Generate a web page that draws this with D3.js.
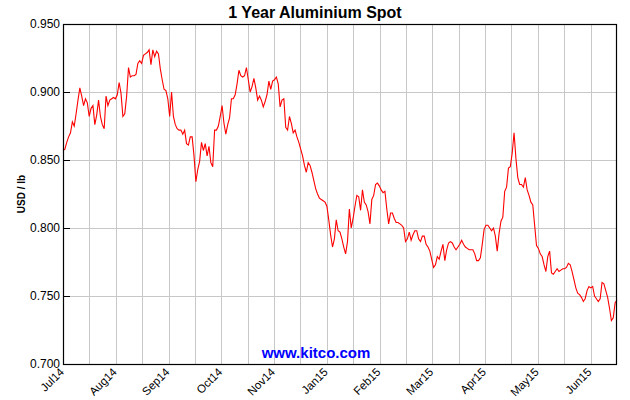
<!DOCTYPE html>
<html>
<head>
<meta charset="utf-8">
<script src="https://cdn.jsdelivr.net/npm/d3@7"></script>
<style>
  body { margin: 0; background: #fff; }
  svg { display: block; font-family: "Liberation Sans", Arial, sans-serif; }
</style>
</head>
<body>
<div id="chart"></div>
<script>
// daily spot price, USD / lb (Jul 14 -> Jun 15)
const prices = [
  0.857, 0.858, 0.863, 0.867, 0.870, 0.878, 0.875, 0.884, 0.894, 0.903,
  0.897, 0.890, 0.895, 0.892, 0.882, 0.888, 0.890, 0.876, 0.883, 0.894,
  0.882, 0.876, 0.873, 0.897, 0.890, 0.894, 0.895, 0.896, 0.895, 0.898,
  0.907, 0.899, 0.882, 0.884, 0.897, 0.918, 0.911, 0.912, 0.912, 0.913,
  0.921, 0.923, 0.921, 0.927, 0.928, 0.929, 0.931, 0.920, 0.931, 0.926,
  0.930, 0.928, 0.917, 0.909, 0.902, 0.901, 0.895, 0.882, 0.900, 0.882,
  0.876, 0.873, 0.872, 0.872, 0.869, 0.872, 0.862, 0.861, 0.867, 0.867,
  0.853, 0.834, 0.843, 0.849, 0.863, 0.857, 0.862, 0.853, 0.860, 0.848,
  0.845, 0.872, 0.872, 0.875, 0.882, 0.890, 0.877, 0.869, 0.876, 0.881,
  0.895, 0.895, 0.898, 0.906, 0.916, 0.912, 0.911, 0.912, 0.918, 0.909,
  0.900, 0.904, 0.910, 0.903, 0.894, 0.897, 0.894, 0.889, 0.893, 0.898,
  0.908, 0.902, 0.908, 0.909, 0.911, 0.906, 0.889, 0.894, 0.895, 0.874,
  0.872, 0.882, 0.877, 0.870, 0.872, 0.867, 0.863, 0.858, 0.853, 0.846,
  0.841, 0.848, 0.846, 0.841, 0.835, 0.829, 0.825, 0.822,
  0.821, 0.820, 0.819, 0.816, 0.806, 0.795, 0.786, 0.792, 0.806, 0.798,
  0.797, 0.792, 0.786, 0.781, 0.790, 0.814, 0.800, 0.807, 0.816, 0.824,
  0.823, 0.813, 0.828, 0.819, 0.817, 0.812, 0.803, 0.821, 0.824, 0.832,
  0.833, 0.831, 0.828, 0.826, 0.827, 0.814, 0.803, 0.811, 0.811, 0.807,
  0.804,
  0.804, 0.803, 0.802, 0.800, 0.790, 0.792, 0.797, 0.791, 0.795, 0.798,
  0.798, 0.792, 0.790, 0.794, 0.794, 0.788, 0.786, 0.783, 0.777, 0.771,
  0.773, 0.779, 0.777, 0.783, 0.788, 0.776, 0.784, 0.789, 0.790, 0.789,
  0.786, 0.784, 0.786, 0.788, 0.791, 0.788, 0.786, 0.785, 0.784, 0.784,
  0.784,
  0.781, 0.776, 0.776, 0.778, 0.788, 0.799, 0.802, 0.802, 0.800, 0.798,
  0.800, 0.794, 0.783, 0.796, 0.805, 0.808, 0.827, 0.830, 0.844, 0.845,
  0.855, 0.870, 0.851, 0.837, 0.832, 0.832, 0.830, 0.837, 0.828, 0.824,
  0.819, 0.817, 0.802, 0.787, 0.785, 0.781, 0.779, 0.773, 0.768, 0.779,
  0.783, 0.767,
  0.766, 0.768, 0.770, 0.768, 0.769, 0.770, 0.770, 0.771, 0.774, 0.773,
  0.768, 0.762, 0.756, 0.752, 0.751, 0.749, 0.746, 0.748, 0.754, 0.757,
  0.756, 0.757, 0.750, 0.748, 0.746, 0.748, 0.760, 0.759, 0.754, 0.749,
  0.741, 0.732, 0.734, 0.745, 0.747
];

const monthLabels = ["Jul14", "Aug14", "Sep14", "Oct14", "Nov14", "Jan15",
                     "Feb15", "Mar15", "Apr15", "May15", "Jun15"];
const yTicks = [0.700, 0.750, 0.800, 0.850, 0.900, 0.950];
const gridSteps = 21; // vertical grid lines, a label on every second one

const width = 630, height = 400;
const margin = {top: 24, right: 13, bottom: 36, left: 63};

const svg = d3.select("#chart").append("svg")
    .attr("width", width)
    .attr("height", height);

const x = d3.scaleLinear()
    .domain([0, prices.length - 1])
    .range([margin.left, width - margin.right]);

const y = d3.scaleLinear()
    .domain([0.700, 0.950])
    .range([height - margin.bottom, margin.top]);

// grid positions in data-index units
const gridPos = d3.range(gridSteps + 1).map(i => i * (prices.length - 1) / gridSteps);

svg.append("g")
    .attr("class", "vgrid")
    .selectAll("line")
    .data(gridPos.slice(1, -1))
    .join("line")
    .attr("x1", d => Math.round(x(d)) + 0.5)
    .attr("x2", d => Math.round(x(d)) + 0.5)
    .attr("y1", margin.top)
    .attr("y2", height - margin.bottom)
    .attr("stroke", "#c8c8c8");

svg.append("g")
    .attr("class", "hgrid")
    .selectAll("line")
    .data(yTicks.slice(1, -1))
    .join("line")
    .attr("x1", margin.left)
    .attr("x2", width - margin.right)
    .attr("y1", d => Math.round(y(d)) + 0.5)
    .attr("y2", d => Math.round(y(d)) + 0.5)
    .attr("stroke", "#c8c8c8");

// left axis: ticks point into the plot
const yAxis = svg.append("g")
    .attr("transform", `translate(${margin.left},0)`)
    .call(d3.axisLeft(y).tickValues(yTicks).tickFormat(d3.format(".3f"))
        .tickSizeInner(-7).tickSizeOuter(0).tickPadding(3));
yAxis.select(".domain").remove();
yAxis.selectAll("line").attr("stroke", "#000");
yAxis.selectAll("text")
    .attr("font-size", 12)
    .attr("font-family", "Liberation Sans, Arial, sans-serif")
    .attr("fill", "#000");

// x labels, rotated
svg.append("g")
    .attr("class", "xlabels")
    .selectAll("text")
    .data(monthLabels)
    .join("text")
    .attr("transform", (d, i) => `translate(${x(gridPos[i * 2]) - 4},${height - margin.bottom + 3}) rotate(-45)`)
    .attr("text-anchor", "end")
    .attr("dy", "0.7em")
    .attr("font-size", 11.5)
    .text(d => d);

// price line
const line = d3.line()
    .x((d, i) => x(i))
    .y(d => y(d));

svg.append("path")
    .datum(prices)
    .attr("fill", "none")
    .attr("stroke", "#ff0000")
    .attr("stroke-width", 1.1)
    .attr("d", line);

// plot frame
svg.append("rect")
    .attr("x", margin.left + 0.5)
    .attr("y", margin.top + 0.5)
    .attr("width", width - margin.left - margin.right - 1)
    .attr("height", height - margin.top - margin.bottom)
    .attr("fill", "none")
    .attr("stroke", "#000")
    .attr("stroke-width", 1.2);

svg.append("text")
    .attr("x", width / 2)
    .attr("y", 18)
    .attr("text-anchor", "middle")
    .attr("font-size", 16)
    .attr("font-weight", "bold")
    .text("1 Year Aluminium Spot");

svg.append("text")
    .attr("transform", `translate(25,${(margin.top + height - margin.bottom) / 2}) rotate(-90)`)
    .attr("text-anchor", "middle")
    .attr("font-size", 10)
    .attr("font-weight", "bold")
    .text("USD / lb");

svg.append("text")
    .attr("x", 316)
    .attr("y", 358)
    .attr("text-anchor", "middle")
    .attr("font-size", 15)
    .attr("font-weight", "bold")
    .attr("fill", "#0000ff")
    .text("www.kitco.com");
</script>
</body>
</html>
